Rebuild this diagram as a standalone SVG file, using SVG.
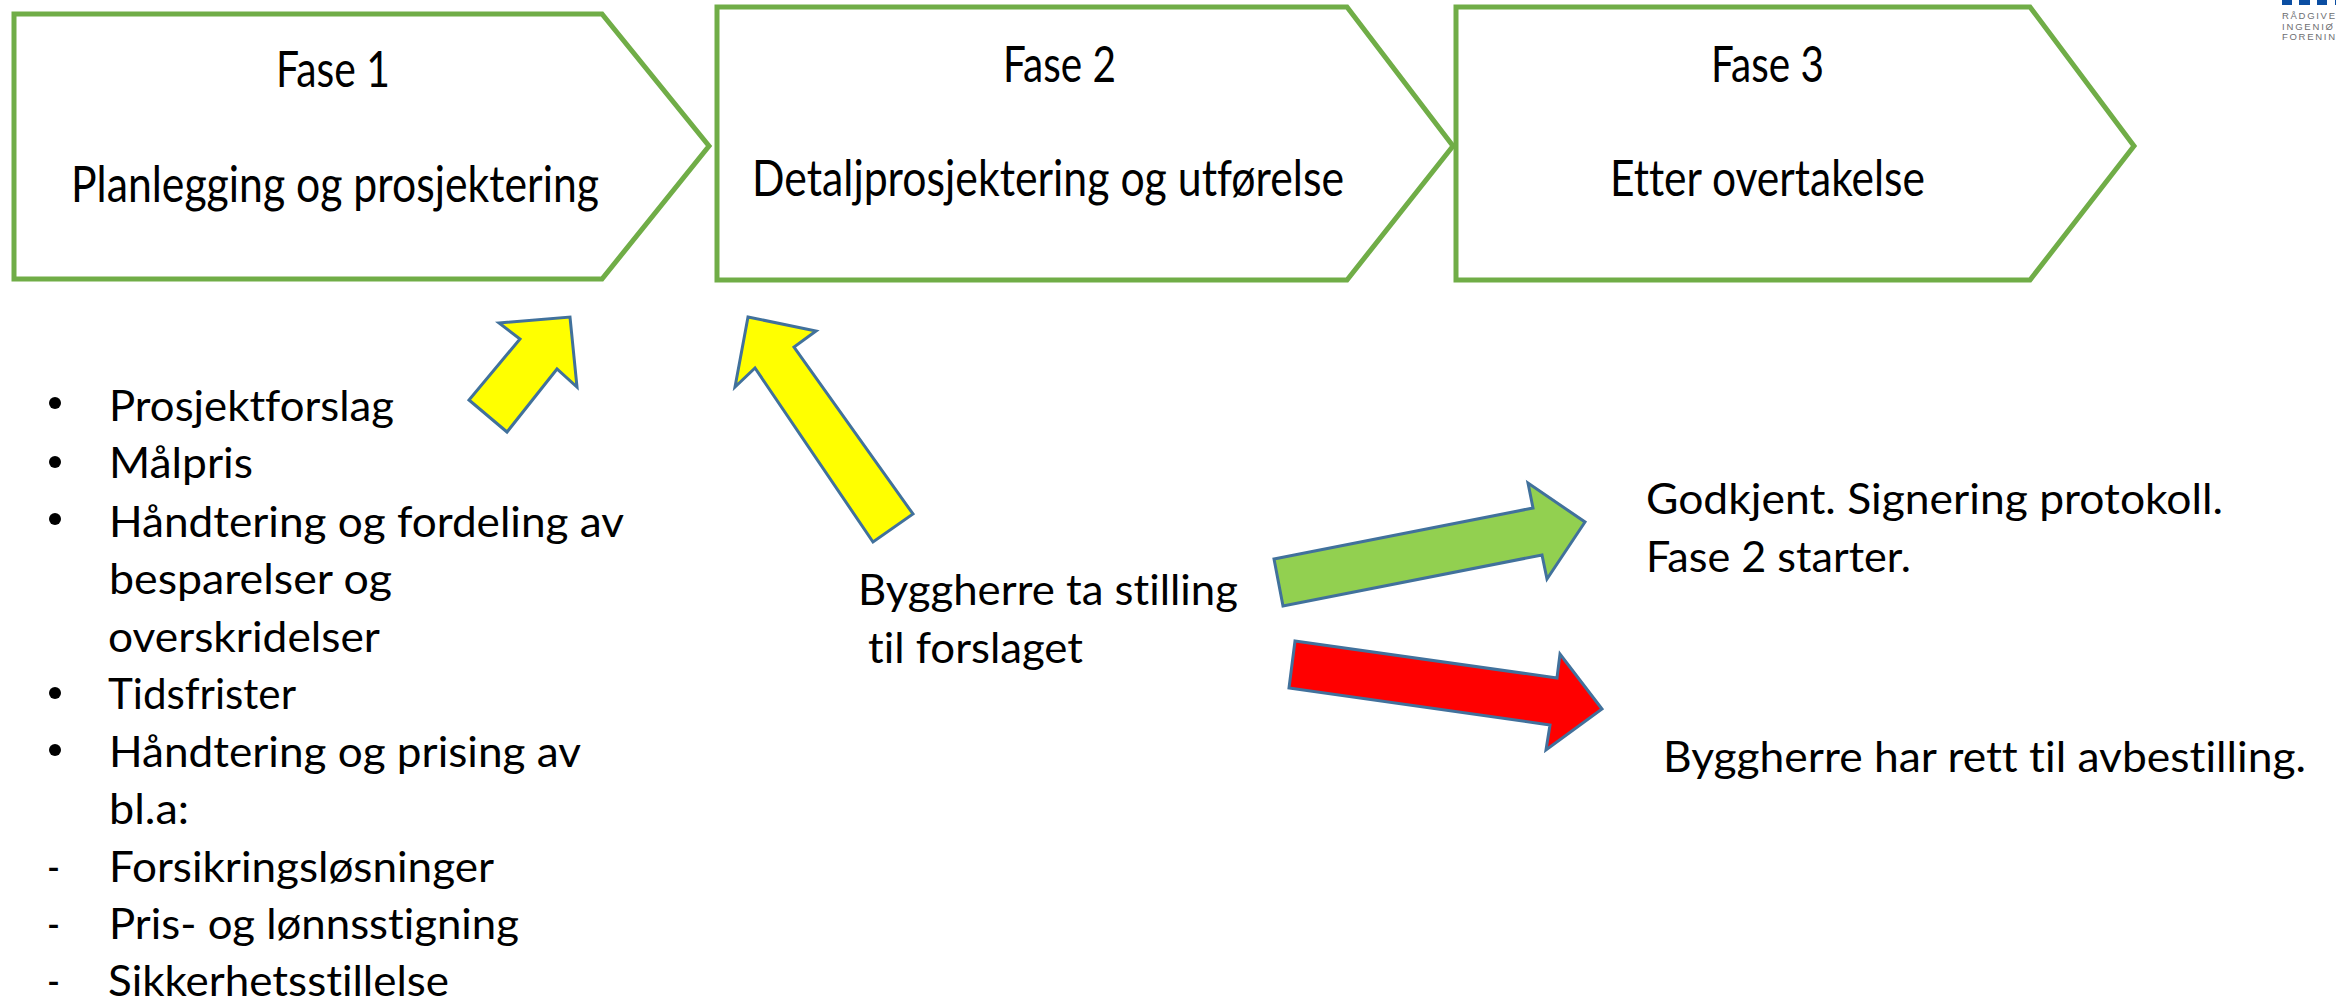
<svg xmlns="http://www.w3.org/2000/svg" width="2336" height="1000" viewBox="0 0 2336 1000">
<style>
text{font-variant-ligatures:none;font-family:Lato,"Open Sans",sans-serif;fill:#000}
.phase{fill:#fff;stroke:#70ad47;stroke-width:5;stroke-linejoin:miter}
.head{font-size:50px}
.body{font-size:42px}
.arr{stroke:#41719c;stroke-width:3;stroke-linejoin:miter}
.logo{font-family:"Liberation Sans",sans-serif;font-size:9.5px;fill:#6d6e71}
.blue{fill:#0b4ea2}
</style>
<rect width="2336" height="1000" fill="#fff"/>
<g id="fase1"><polygon class="phase" points="14,14 602,14 709,146 602,279 14,279"/>
<text class="head" x="276" y="87" textLength="114" lengthAdjust="spacingAndGlyphs">Fase 1</text>
<text class="head" x="71" y="202" textLength="528" lengthAdjust="spacingAndGlyphs">Planlegging og prosjektering</text></g>
<g id="fase2"><polygon class="phase" points="717,7 1347,7 1453,146 1347,280 717,280"/>
<text class="head" x="1003" y="82" textLength="113" lengthAdjust="spacingAndGlyphs">Fase 2</text>
<text class="head" x="752" y="196" textLength="592" lengthAdjust="spacingAndGlyphs">Detaljprosjektering og utførelse</text></g>
<g id="fase3"><polygon class="phase" points="1456,7 2030,7 2134,146 2030,280 1456,280"/>
<text class="head" x="1711" y="82" textLength="113" lengthAdjust="spacingAndGlyphs">Fase 3</text>
<text class="head" x="1610" y="196" textLength="315" lengthAdjust="spacingAndGlyphs">Etter overtakelse</text></g>
<g id="connectors">
<polygon class="arr" fill="#ffff00" points="499,323 570,317 577,387 557,369 507,432 469,400 520,339"/>
<polygon class="arr" fill="#ffff00" points="748,317 816,331 794,347 913,514 873,542 755,368 735,387"/>
<polygon class="arr" fill="#92d050" points="1274,559 1533,508 1528,483 1585,522 1547,579 1542,555 1283,606"/>
<polygon class="arr" fill="#ff0000" points="1295,641 1557,678 1560,654 1602,709 1546,750 1550,725 1289,688"/>
</g>
<g id="list">
<circle cx="55" cy="403" r="6"/><circle cx="55" cy="462" r="6"/><circle cx="55" cy="519" r="6"/><circle cx="55" cy="693" r="6"/><circle cx="55" cy="750" r="6"/>
<text class="body" x="109" y="421" textLength="285" lengthAdjust="spacingAndGlyphs">Prosjektforslag</text>
<text class="body" x="109" y="478" textLength="144" lengthAdjust="spacingAndGlyphs">Målpris</text>
<text class="body" x="109" y="537" textLength="515" lengthAdjust="spacingAndGlyphs">Håndtering og fordeling av</text>
<text class="body" x="109" y="594" textLength="283" lengthAdjust="spacingAndGlyphs">besparelser og</text>
<text class="body" x="108" y="652" textLength="272" lengthAdjust="spacingAndGlyphs">overskridelser</text>
<text class="body" x="108" y="709" textLength="188" lengthAdjust="spacingAndGlyphs">Tidsfrister</text>
<text class="body" x="109" y="767" textLength="472" lengthAdjust="spacingAndGlyphs">Håndtering og prising av</text>
<text class="body" x="109" y="824" textLength="80" lengthAdjust="spacingAndGlyphs">bl.a:</text>
<text class="body" x="47" y="882" textLength="13" lengthAdjust="spacingAndGlyphs">-</text><text class="body" x="109" y="882" textLength="385" lengthAdjust="spacingAndGlyphs">Forsikringsløsninger</text>
<text class="body" x="47" y="939" textLength="13" lengthAdjust="spacingAndGlyphs">-</text><text class="body" x="109" y="939" textLength="410" lengthAdjust="spacingAndGlyphs">Pris- og lønnsstigning</text>
<text class="body" x="47" y="996" textLength="13" lengthAdjust="spacingAndGlyphs">-</text><text class="body" x="108" y="996" textLength="341" lengthAdjust="spacingAndGlyphs">Sikkerhetsstillelse</text>
</g>
<g id="decision"><text class="body" x="858" y="605" textLength="380" lengthAdjust="spacingAndGlyphs">Byggherre ta stilling</text><text class="body" x="868" y="663" textLength="215" lengthAdjust="spacingAndGlyphs">til forslaget</text></g>
<g id="approved"><text class="body" x="1646" y="514" textLength="577" lengthAdjust="spacingAndGlyphs">Godkjent. Signering protokoll.</text><text class="body" x="1646" y="572" textLength="265" lengthAdjust="spacingAndGlyphs">Fase 2 starter.</text></g>
<g id="cancel"><text class="body" x="1663" y="772" textLength="643" lengthAdjust="spacingAndGlyphs">Byggherre har rett til avbestilling.</text></g>
<g id="logo">
<rect class="blue" x="2282" y="0" width="10" height="5"/><rect class="blue" x="2299" y="0" width="11" height="5"/><rect class="blue" x="2317" y="0" width="10" height="5"/><rect class="blue" x="2335" y="0" width="1" height="5"/>
<text class="logo" x="2282" y="19" textLength="53">RÅDGIVE</text><text class="logo" x="2282" y="30" textLength="51">INGENIØ</text><text class="logo" x="2282" y="40" textLength="53">FORENIN</text>
</g>
</svg>
